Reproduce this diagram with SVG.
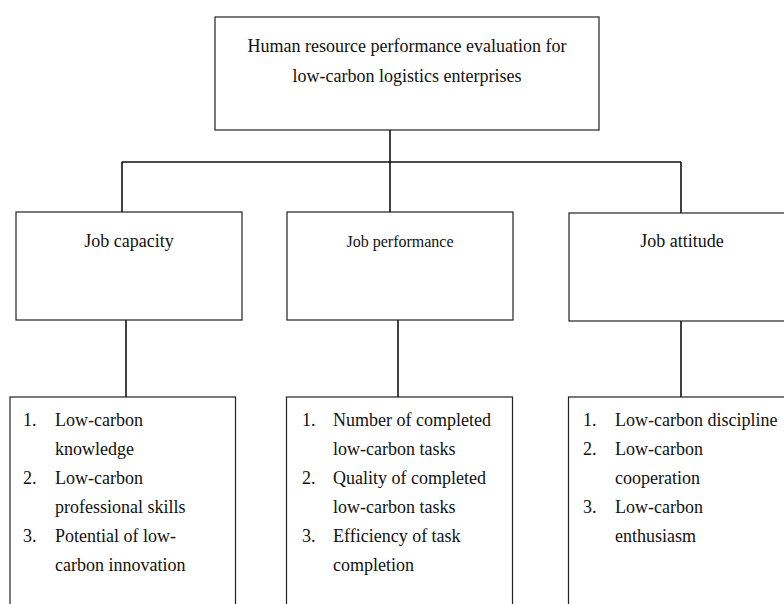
<svg xmlns="http://www.w3.org/2000/svg" width="784" height="604" viewBox="0 0 784 604">
<style>
.box{fill:#fff;stroke:#222;stroke-width:1.2}
text{font-family:'Liberation Serif',Tinos,'Times New Roman','DejaVu Serif',serif;font-size:18px;fill:#111}
.c{text-anchor:middle}
.s{font-size:16px}
.conn line{stroke:#111;stroke-width:1.6}
</style>
<rect width="784" height="604" fill="#fff"/>
<g id="conn" class="conn">
<line x1="390" y1="130" x2="390" y2="212"/>
<line x1="122" y1="162" x2="681" y2="162"/>
<line x1="122" y1="162" x2="122" y2="212"/>
<line x1="681" y1="162" x2="681" y2="213"/>
<line x1="126" y1="320" x2="126" y2="397"/>
<line x1="398" y1="320" x2="398" y2="397"/>
<line x1="681" y1="321" x2="681" y2="397"/>
</g>
<g id="root">
<rect class="box" x="215" y="17" width="384" height="113"/>
<text class="c" x="407" y="52">Human resource performance evaluation for</text>
<text class="c" x="407" y="82">low-carbon logistics enterprises</text>
</g>
<g id="capacity">
<rect class="box" x="16" y="212" width="226" height="108"/>
<text class="c" x="129" y="247">Job capacity</text>
</g>
<g id="performance">
<rect class="box" x="287" y="212" width="226" height="108"/>
<text class="c s" x="400" y="247">Job performance</text>
</g>
<g id="attitude">
<rect class="box" x="569" y="213" width="240" height="108"/>
<text class="c" x="682" y="247">Job attitude</text>
</g>
<g id="capacity-list">
<rect class="box" x="10" y="397" width="225.5" height="230"/>
<text x="23" y="426">1.</text><text x="55" y="426">Low-carbon</text>
<text x="55" y="455">knowledge</text>
<text x="23" y="484">2.</text><text x="55" y="484">Low-carbon</text>
<text x="55" y="513">professional skills</text>
<text x="23" y="542">3.</text><text x="55" y="542">Potential of low-</text>
<text x="55" y="571">carbon innovation</text>
</g>
<g id="performance-list">
<rect class="box" x="286.5" y="397" width="226" height="230"/>
<text x="302" y="426">1.</text><text x="333" y="426">Number of completed</text>
<text x="333" y="455">low-carbon tasks</text>
<text x="302" y="484">2.</text><text x="333" y="484">Quality of completed</text>
<text x="333" y="513">low-carbon tasks</text>
<text x="302" y="542">3.</text><text x="333" y="542">Efficiency of task</text>
<text x="333" y="571">completion</text>
</g>
<g id="attitude-list">
<rect class="box" x="568.5" y="397" width="240" height="230"/>
<text x="583" y="426">1.</text><text x="615" y="426">Low-carbon discipline</text>
<text x="583" y="455">2.</text><text x="615" y="455">Low-carbon</text>
<text x="615" y="484">cooperation</text>
<text x="583" y="513">3.</text><text x="615" y="513">Low-carbon</text>
<text x="615" y="542">enthusiasm</text>
</g>
</svg>
